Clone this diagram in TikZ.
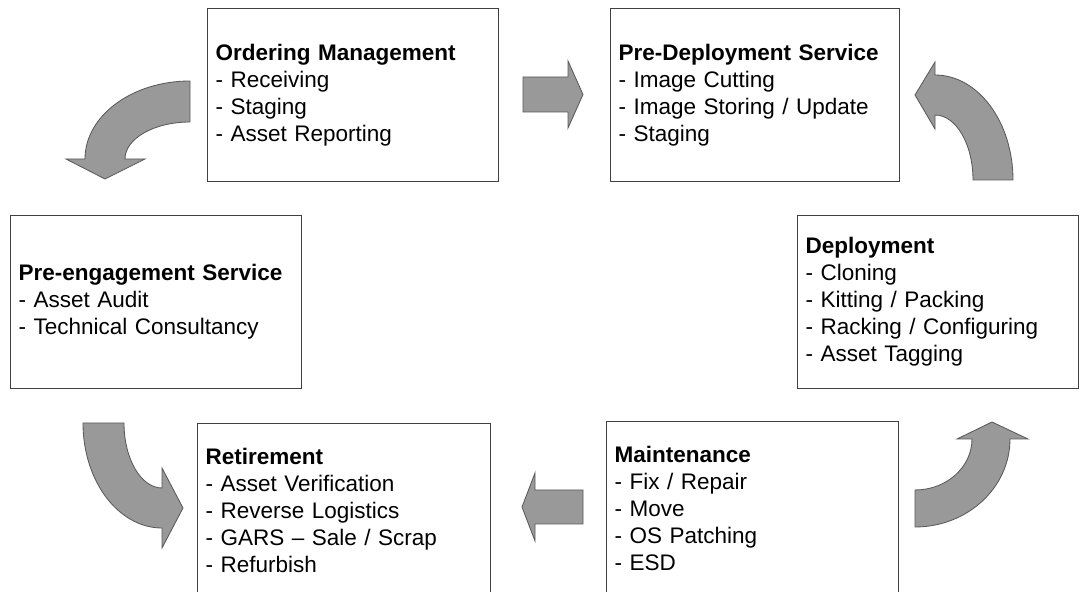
\documentclass[tikz,border=0pt]{standalone}
\usepackage{fontspec}
\setmainfont{Liberation Sans}

\begin{document}
\begin{tikzpicture}[x=0.025cm,y=0.025cm,
  stage/.style={draw=black!75, line width=0.8pt, anchor=north west, align=left,
    inner xsep=0.2cm, text width=#1, minimum height=4.325cm,
    font=\fontsize{16}{19.2}\selectfont},
  flowarrow/.style={fill=black!40, draw=black!65, line width=0.6pt}]

\useasboundingbox (0,0) rectangle (1080,592);

% boxes
\node[stage=6.875cm] (order) at (207,584) {\textbf{Ordering Management}\\- Receiving\\- Staging\\- Asset Reporting};
\node[stage=6.825cm] (predeploy) at (610,584) {\textbf{Pre-Deployment Service}\\- Image Cutting\\- Image Storing / Update\\- Staging};
\node[stage=6.875cm] (preengage) at (10,377) {\textbf{Pre-engagement Service}\\- Asset Audit\\- Technical Consultancy};
\node[stage=6.625cm] (deploy) at (797,377) {\textbf{Deployment}\\- Cloning\\- Kitting / Packing\\- Racking / Configuring\\- Asset Tagging};
\node[stage=6.925cm] (retire) at (197,169) {\textbf{Retirement}\\- Asset Verification\\- Reverse Logistics\\- GARS – Sale / Scrap\\- Refurbish};
\node[stage=6.9cm] (maintain) at (606,171) {\textbf{Maintenance}\\- Fix / Repair\\- Move\\- OS Patching\\- ESD};

% straight arrows
\draw[flowarrow] (523,480) -- (523,515) -- (568,515) -- (568,531) -- (583,497.5) -- (568,464) -- (568,480) -- cycle;
\draw[flowarrow] (583,68) -- (583,102) -- (535,102) -- (535,119) -- (522,85) -- (535,51) -- (535,68) -- cycle;

% curved arrows
\draw[flowarrow] (190,511) arc[start angle=90, end angle=180, x radius=105, y radius=78]
  -- (66,433) -- (105,413) -- (145,433) -- (125,433)
  arc[start angle=180, end angle=90, x radius=65, y radius=37] -- cycle;
\draw[flowarrow] (1013,412) arc[start angle=0, end angle=90, x radius=78, y radius=105]
  -- (935,530) -- (915,497) -- (935,463) -- (935,477)
  arc[start angle=90, end angle=0, x radius=38, y radius=65] -- cycle;
\draw[flowarrow] (83,169) arc[start angle=180, end angle=270, x radius=79, y radius=105]
  -- (162,44) -- (183,84) -- (162,124) -- (162,104)
  arc[start angle=270, end angle=180, x radius=38, y radius=65] -- cycle;
\draw[flowarrow] (915,65) arc[start angle=270, end angle=360, x radius=95, y radius=88]
  -- (1028,153) -- (992,170) -- (957,153) -- (972,153)
  arc[start angle=0, end angle=-90, x radius=57, y radius=51] -- cycle;
\end{tikzpicture}
\end{document}
